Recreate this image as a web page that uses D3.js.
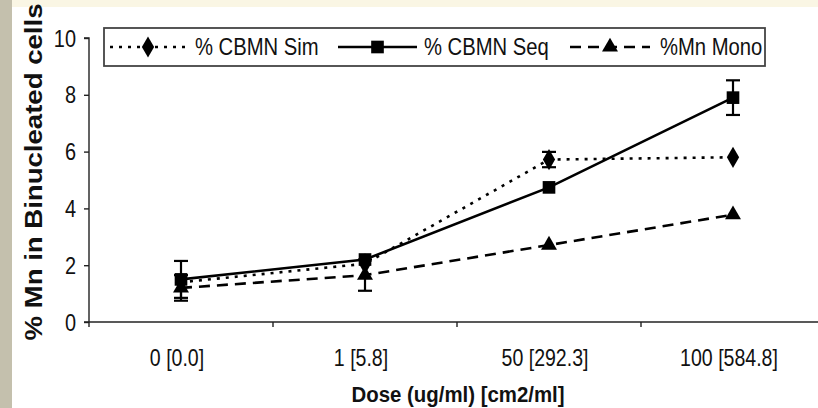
<!DOCTYPE html>
<html>
<head>
<meta charset="utf-8">
<script src="https://cdn.jsdelivr.net/npm/d3@7/dist/d3.min.js"></script>
<style>
  html, body { margin: 0; padding: 0; background: #fff; }
  svg { display: block; font-family: "Liberation Sans", Arial, sans-serif; }
</style>
</head>
<body>
<svg id="chart" width="818" height="408"></svg>
<script>
// Dose levels (ug/ml) with surface-area equivalents [cm2/ml]
const doses = ["0 [0.0]", "1 [5.8]", "50 [292.3]", "100 [584.8]"];

// % micronuclei, per scoring method
const cbmnSim  = [1.4, 2.05, 5.72, 5.8];
const cbmnSimErr = [0.0, 0.0, 0.27, 0.0];
const cbmnSeq  = [1.5, 2.2, 4.74, 7.9];
const cbmnSeqErr = [0.65, 0.0, 0.0, 0.61];
const mnMono   = [1.2, 1.65, 2.71, 3.78];
const mnMonoErr = [0.45, 0.55, 0.0, 0.0];

const yTicks = [0, 2, 4, 6, 8, 10];

const seriesNames = ["% CBMN Sim", "% CBMN Seq", "%Mn Mono"];

const svg = d3.select("#chart");
const W = 818, H = 408;

// narrow-looking text: draw at (px,py) and squeeze horizontally
function narrowText(parent, px, py, str, size, sx, anchor) {
  return parent.append("text")
    .attr("transform", `translate(${px},${py}) scale(${sx},1)`)
    .attr("text-anchor", anchor || "start")
    .attr("font-size", size).attr("fill", "#111")
    .text(str);
}

// page backdrop: side strip and top band
svg.append("rect").attr("x", 0).attr("y", 0).attr("width", W).attr("height", H).attr("fill", "#fff");
svg.append("rect").attr("x", 0).attr("y", 0).attr("width", W).attr("height", 7).attr("fill", "#faf6e4");
svg.append("rect").attr("x", 0).attr("y", 0).attr("width", 12).attr("height", H).attr("fill", "#c4c0ad");

const x = d3.scalePoint().domain(doses).range([89, 825]).padding(0.5);
const y = d3.scaleLinear().domain([0, 10]).range([322, 38]);
const step = x.step();

// y axis
const yAxis = svg.append("g").attr("transform", "translate(89,0)")
  .call(d3.axisLeft(y).tickValues(yTicks).tickSize(5).tickFormat(""));
yAxis.select(".domain").attr("stroke", "#222").attr("stroke-width", 1.4).attr("d", `M-5,${y(10)}H0V${y(0)}`);
yAxis.selectAll(".tick line").attr("stroke", "#222").attr("stroke-width", 1.4);
yTicks.forEach(t => narrowText(svg, 76, y(t) + 8.5, String(t), 24, 0.83, "end"));

// x axis with ticks between categories
const xg = svg.append("g");
xg.append("line").attr("x1", 84).attr("x2", W).attr("y1", y(0)).attr("y2", y(0))
  .attr("stroke", "#222").attr("stroke-width", 1.4);
const boundaries = doses.map(d => x(d) - step / 2);
xg.selectAll("line.tk").data(boundaries).join("line").attr("class", "tk")
  .attr("x1", d => d).attr("x2", d => d).attr("y1", y(0)).attr("y2", y(0) + 5)
  .attr("stroke", "#222").attr("stroke-width", 1.4);
doses.forEach(d => narrowText(xg, x(d) - 4, 366, d, 23, 0.85, "middle"));

// axis titles
svg.append("text").attr("x", 458).attr("y", 402).attr("text-anchor", "middle")
  .attr("font-size", 22).attr("font-weight", "bold").attr("fill", "#111")
  .attr("textLength", 213).attr("lengthAdjust", "spacingAndGlyphs")
  .text("Dose (ug/ml) [cm2/ml]");
svg.append("text")
  .attr("transform", "translate(42,172) rotate(-90)")
  .attr("text-anchor", "middle").attr("font-size", 24).attr("font-weight", "bold").attr("fill", "#111")
  .attr("textLength", 337).attr("lengthAdjust", "spacingAndGlyphs")
  .text("% Mn in Binucleated cells");

const series = [
  { name: seriesNames[0], vals: cbmnSim, err: cbmnSimErr, dash: "3,6", sym: d3.symbolDiamond, size: 130 },
  { name: seriesNames[1], vals: cbmnSeq, err: cbmnSeqErr, dash: null, sym: d3.symbolSquare, size: 160 },
  { name: seriesNames[2], vals: mnMono, err: mnMonoErr, dash: "11,7", sym: d3.symbolTriangle, size: 110 }
];

const line = d3.line().x((d, i) => x(doses[i])).y(d => y(d));
const plot = svg.append("g");

series.forEach(s => {
  plot.append("path").datum(s.vals).attr("d", line)
    .attr("fill", "none").attr("stroke", "#000").attr("stroke-width", 2.6)
    .attr("stroke-dasharray", s.dash);
  s.vals.forEach((v, i) => {
    const e = s.err[i];
    if (e > 0) {
      const cx = x(doses[i]);
      const g = plot.append("g").attr("stroke", "#000").attr("stroke-width", 2.2);
      g.append("line").attr("x1", cx).attr("x2", cx).attr("y1", y(v - e)).attr("y2", y(v + e));
      g.append("line").attr("x1", cx - 7).attr("x2", cx + 7).attr("y1", y(v - e)).attr("y2", y(v - e));
      g.append("line").attr("x1", cx - 7).attr("x2", cx + 7).attr("y1", y(v + e)).attr("y2", y(v + e));
    }
  });
  plot.selectAll(null).data(s.vals).join("path")
    .attr("transform", (d, i) => `translate(${x(doses[i])},${y(d)})`)
    .attr("d", d3.symbol(s.sym, s.size)).attr("fill", "#000");
});

// legend
const lg = svg.append("g");
lg.append("rect").attr("x", 104).attr("y", 28).attr("width", 661).attr("height", 38)
  .attr("fill", "#fff").attr("stroke", "#444").attr("stroke-width", 1.8);
const legendItems = [
  { x0: 110, x1: 186, tx: 195 },
  { x0: 338, x1: 417, tx: 424 },
  { x0: 570, x1: 650, tx: 660 }
];
series.forEach((s, i) => {
  const it = legendItems[i];
  const cy = 47;
  lg.append("line").attr("x1", it.x0).attr("x2", it.x1).attr("y1", cy).attr("y2", cy)
    .attr("stroke", "#000").attr("stroke-width", 2.6).attr("stroke-dasharray", s.dash);
  lg.append("path").attr("transform", `translate(${(it.x0 + it.x1) / 2},${cy})`)
    .attr("d", d3.symbol(s.sym, s.size)).attr("fill", "#000");
  narrowText(lg, it.tx, cy + 8, s.name, 23, 0.88);
});
</script>
</body>
</html>
